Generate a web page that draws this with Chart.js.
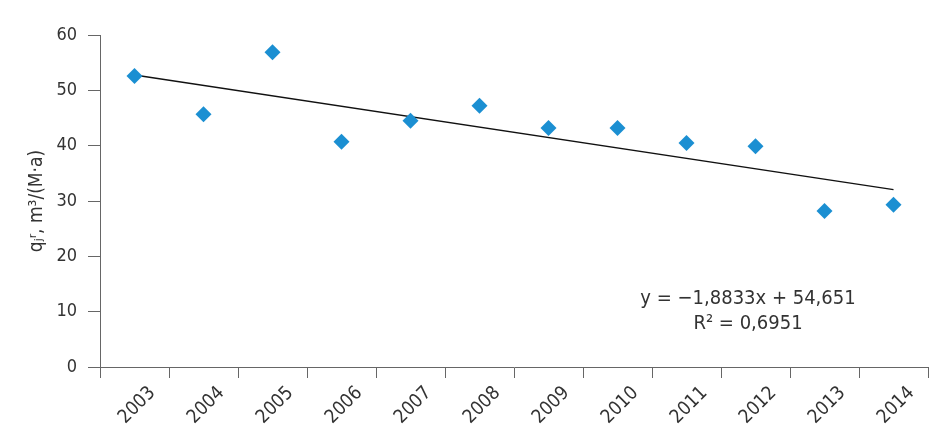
<!DOCTYPE html>
<html>
<head>
<meta charset="utf-8">
<script src="https://cdn.jsdelivr.net/npm/chart.js@4"></script>
<style>
  body { margin: 0; background: #fff; }
  #wrap { width: 938px; height: 447px; position: relative; }
</style>
</head>
<body>
<div id="wrap"><canvas id="chart"></canvas></div>
<script>
// data
const years = ['2003', '2004', '2005', '2006', '2007', '2008', '2009', '2010', '2011', '2012', '2013', '2014'];
const qValues = [52.6, 45.7, 56.9, 40.7, 44.5, 47.2, 43.2, 43.2, 40.5, 39.9, 28.2, 29.3];
// trend line end points (first and last year)
const trendValues = [52.77, null, null, null, null, null, null, null, null, null, null, 32.05];
const yTicks = [0, 10, 20, 30, 40, 50, 60];
const equationText = ['y = \u22121,8833x + 54,651', 'R\u00b2 = 0,6951'];

const fontFamily = "'Liberation Sans Narrow', 'DejaVu Sans Condensed', 'Arial Narrow', sans-serif";
const textColor = '#333';
const axisColor = '#666';

const equationPlugin = {
    id: 'equation',
    afterDraw(chart) {
        const ctx = chart.ctx;
        const x = chart.scales.x;
        const y = chart.scales.y;
        const cx = (x.getPixelForValue(8) + x.getPixelForValue(9)) / 2 + 27;
        ctx.save();
        ctx.fillStyle = textColor;
        ctx.font = '20px ' + fontFamily;
        ctx.textAlign = 'center';
        ctx.textBaseline = 'middle';
        ctx.fillText(equationText[0], cx, y.getPixelForValue(12.3));
        ctx.fillText(equationText[1], cx, y.getPixelForValue(7.8));
        ctx.restore();
    }
};

new Chart(document.getElementById('chart'), {
    type: 'line',
    data: {
        labels: years,
        datasets: [{
            label: 'q',
            data: qValues,
            showLine: false,
            pointStyle: 'rectRot',
            pointRadius: 8,
            pointHoverRadius: 8,
            backgroundColor: '#1b8fd2',
            borderColor: '#1b8fd2',
            borderWidth: 0
        }, {
            label: 'trend',
            data: trendValues,
            spanGaps: true,
            borderColor: '#111',
            borderWidth: 1.3,
            pointRadius: 0,
            fill: false
        }]
    },
    options: {
        responsive: true,
        maintainAspectRatio: false,
        animation: false,
        layout: { padding: { left: 0, right: 10, top: 35, bottom: 0 } },
        plugins: {
            legend: { display: false },
            tooltip: { enabled: false }
        },
        scales: {
            x: {
                offset: true,
                grid: {
                    offset: true,
                    drawOnChartArea: false,
                    drawTicks: true,
                    tickLength: 11,
                    color: axisColor
                },
                border: { color: axisColor, width: 1 },
                ticks: {
                    color: textColor,
                    font: { family: fontFamily, size: 19 },
                    maxRotation: 45,
                    minRotation: 45,
                    padding: 4,
                    labelOffset: 18
                },
                afterFit(scale) { scale.height = 80; }
            },
            y: {
                min: 0,
                max: 60,
                afterBuildTicks(scale) { scale.ticks = yTicks.map(v => ({ value: v })); },
                grid: {
                    drawOnChartArea: false,
                    drawTicks: true,
                    tickLength: 12,
                    color: axisColor
                },
                border: { color: axisColor, width: 1 },
                ticks: {
                    color: textColor,
                    font: { family: fontFamily, size: 18 },
                    padding: 11
                },
                title: {
                    display: true,
                    text: 'q\u2C7C\u02B3, m\u00b3/(M\u00b7a)',
                    color: textColor,
                    font: { family: fontFamily, size: 19 },
                    padding: { top: 26, bottom: 0 }
                },
                afterFit(scale) { scale.width = 100; }
            }
        }
    },
    plugins: [equationPlugin]
});
</script>
</body>
</html>
